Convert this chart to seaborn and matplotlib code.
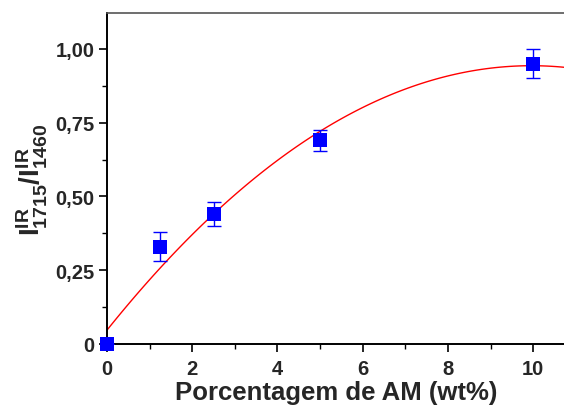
import numpy as np
import pandas as pd
import matplotlib
matplotlib.use("Agg")
import matplotlib.pyplot as plt
import seaborn as sns
from matplotlib.ticker import MultipleLocator, FixedLocator

sns.set_theme(style="ticks")
plt.rcParams['font.family'] = ['Liberation Sans', 'DejaVu Sans']
plt.rcParams['font.weight'] = 'bold'
plt.rcParams['mathtext.fontset'] = 'custom'
plt.rcParams['mathtext.rm'] = 'Liberation Sans:bold'
plt.rcParams['mathtext.bf'] = 'Liberation Sans:bold'
plt.rcParams['mathtext.it'] = 'Liberation Sans:bold'

# data
am_pct = [0.0, 1.25, 2.5, 5.0, 10.0]
ratio = [0.0, 0.33, 0.44, 0.69, 0.95]
ratio_err = [0.0, 0.05, 0.04, 0.035, 0.05]
x_ticks = [0, 2, 4, 6, 8, 10]
y_ticks = [0, 0.25, 0.5, 0.75, 1.0]
y_tick_labels = ["0", "0,25", "0,50", "0,75", "1,00"]

df = pd.DataFrame({"x": am_pct, "y": ratio, "err": ratio_err})

fig = plt.figure(figsize=(5.64, 4.10), dpi=100)
ax = fig.add_axes([107/564, 65/410, 1 - 107/564 + 0.002, (345-14)/410])
ax.set_xlim(0, 10.75)
ax.set_ylim(0, 1.122)

sns.regplot(data=df, x="x", y="y", order=2, ci=None, scatter=False, truncate=False,
            line_kws=dict(color="red", lw=1.0), ax=ax)
ax.errorbar(df["x"], df["y"], yerr=df["err"], fmt="none", ecolor="blue",
            elinewidth=1.0, capsize=5, capthick=1.0, zorder=3)
sns.scatterplot(data=df, x="x", y="y", marker="s", s=110, color="blue",
                edgecolor="blue", linewidth=0, ax=ax, zorder=4, clip_on=False)

ax.set_xlim(0, 10.75)
ax.set_ylim(0, 1.122)
ax.xaxis.set_major_locator(FixedLocator(x_ticks))
ax.xaxis.set_minor_locator(MultipleLocator(1))
ax.yaxis.set_major_locator(FixedLocator(y_ticks))
ax.yaxis.set_minor_locator(MultipleLocator(0.125))
ax.set_yticklabels(y_tick_labels)
ax.tick_params(axis="both", which="major", direction="out", length=6, width=1.2,
               labelsize=14.5, color="black")
ax.tick_params(axis="x", which="major", pad=5)
ax.tick_params(axis="y", which="major", pad=3)
ax.tick_params(axis="both", which="minor", direction="out", length=3.5, width=1.0, color="black")
for lab in ax.get_xticklabels() + ax.get_yticklabels():
    lab.set_fontweight("bold")

ax.spines["left"].set_linewidth(1.4)
ax.spines["bottom"].set_linewidth(1.4)
ax.spines["left"].set_color("black")
ax.spines["bottom"].set_color("black")
ax.spines["top"].set_color("#555555")
ax.spines["top"].set_linewidth(1.2)
ax.spines["right"].set_visible(False)

ax.set_xlabel("Porcentagem de AM (wt%)", fontsize=18.5, fontweight="bold", labelpad=1)
ax.set_ylabel(r"$\mathbf{I^{IR}_{1715}/I^{IR}_{1460}}$", fontsize=20, labelpad=4)

fig.savefig("out.png", dpi=100)
